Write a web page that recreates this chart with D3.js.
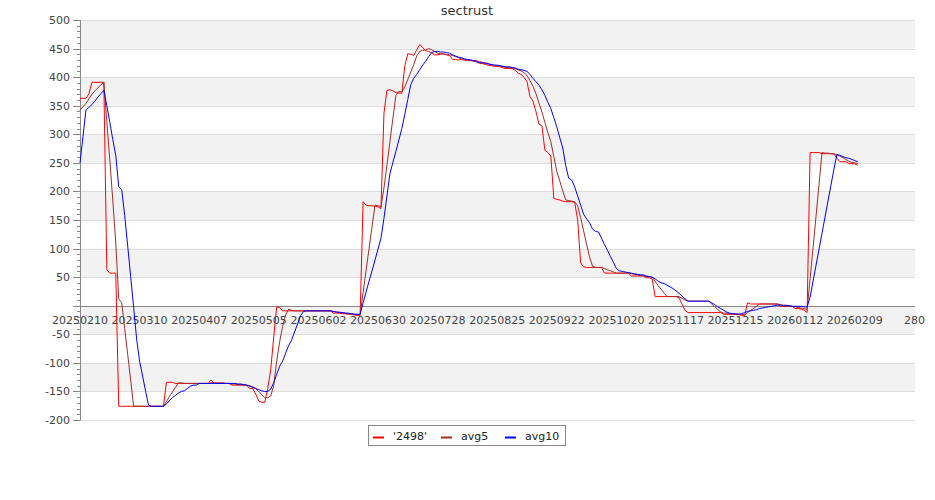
<!DOCTYPE html>
<html><head><meta charset="utf-8">
<script src="https://cdn.jsdelivr.net/npm/d3@7"></script>
<style>html,body{margin:0;padding:0;background:#fff;}svg{display:block;font-family:"DejaVu Sans",sans-serif;}</style>
</head><body><svg id="chart" width="935" height="500"></svg>
<script>
const title = "sectrust";
const tickIndex = [0,20,40,60,80,100,120,140,160,180,200,220,240,260,280];
const tickLabels = ["20250210","20250310","20250407","20250505","20250602","20250630","20250728","20250825","20250922","20251020","20251117","20251215","20260112","20260209","280"];
const seriesNames = ["'2498'","avg5","avg10"];
const seriesColors = ["#ff0000","#a52a2a","#0000ff"];
const raw = [363,363,363,371,391,391,391,391,391,63,
57,57,57,-176,-176,-176,-176,-176,-176,-176,
-176,-176,-176,-176,-176,-176,-176,-176,-176,-134,
-134,-134,-136,-136,-136,-136,-136,-136,-136,-136,
-136,-136,-136,-136,-130,-136,-136,-136,-136,-136,
-136,-139,-139,-139,-139,-139,-140,-145,-145,-155,
-167,-169,-169,-145,-112,-55,-2,-3,-9,-9,
-9,-9,-9,-9,-9,-9,-9,-9,-9,-9,
-9,-9,-9,-9,-9,-13,-13,-13,-14,-14,
-15,-15,-16,-17,-17,182,176,175,175,174,
173,170,337,377,378,376,373,372,372,420,
441,440,438,448,457,452,446,445,442,439,
439,440,441,439,438,431,431,430,431,430,
429,429,428,427,424,424,422,421,420,419,
419,418,416,415,415,415,412,407,405,400,
392,366,358,340,318,315,272,268,262,188,
186,185,183,182,182,182,181,150,75,68,
67,67,67,67,67,67,57,57,57,57,
57,57,57,57,57,52,52,52,52,52,
49,49,47,16,16,16,16,16,16,16,
16,14,3,-8,-12,-12,-12,-12,-12,-12,
-12,-12,-12,-12,-12,-12,-15,-15,-15,-15,
-15,-15,-17,-18,5,3,3,3,3,3,
3,3,3,3,3,-1,-1,-1,-1,-1,
-5,-5,-6,-8,-12,268,268,268,268,266,
266,266,266,266,258,252,252,252,249,249,
248,246];
const avg5 = [342,348,354,362,370,376,381,387,391,322,
255,185,110,12,5,-40,-85,-130,-176,-176,
-176,-176,-176,-176,-176,-176,-176,-176,-176,-168,
-159,-151,-143,-135,-135,-136,-136,-136,-136,-136,
-136,-136,-136,-136,-135,-135,-135,-135,-135,-136,
-136,-137,-137,-138,-138,-139,-139,-140,-142,-145,
-150,-156,-161,-161,-158,-140,-97,-63,-36,-16,
-6,-8,-9,-9,-9,-9,-9,-9,-9,-9,
-9,-9,-9,-9,-9,-10,-11,-11,-12,-13,
-14,-14,-15,-15,-16,23,62,100,138,176,
175,173,206,246,287,328,368,375,374,383,
396,409,422,437,445,447,448,450,448,445,
442,441,440,440,439,438,436,434,432,431,
430,430,429,429,427,426,425,424,422,421,
420,419,418,417,417,416,415,413,411,408,
403,394,384,371,355,339,321,303,287,261,
235,218,201,185,184,183,182,175,154,131,
108,85,69,67,67,67,65,63,61,59,
57,57,57,57,57,56,55,54,53,52,
51,51,50,43,35,29,22,16,16,16,
16,16,13,10,8,8,8,8,8,8,
8,8,3,-2,-7,-11,-13,-13,-14,-14,
-15,-15,-15,-16,-12,-8,-5,-1,3,3,
3,3,3,3,3,2,1,1,0,-1,
-2,-3,-4,-5,-7,47,102,157,212,268,
267,267,266,266,264,262,259,256,253,251,
250,249];
const avg10 = [250,296,343,347,352,358,365,371,377,350,
321,291,263,208,203,158,105,51,-3,-58,
-97,-123,-149,-174,-176,-176,-176,-176,-176,-172,
-166,-161,-157,-153,-150,-149,-145,-141,-139,-139,
-136,-136,-136,-136,-136,-136,-136,-136,-136,-136,
-136,-136,-136,-137,-137,-138,-139,-141,-143,-145,
-147,-149,-150,-150,-146,-135,-120,-106,-97,-83,
-70,-60,-46,-32,-18,-10,-9,-9,-9,-9,
-9,-9,-9,-9,-9,-10,-11,-12,-12,-13,
-13,-14,-15,-15,-15,5,24,43,61,80,
99,118,153,192,231,251,270,290,310,335,
361,387,398,405,413,421,428,436,443,445,
445,444,444,443,442,439,437,435,434,432,
431,430,429,427,426,425,424,423,422,421,
421,420,419,418,418,417,416,414,413,412,
410,405,398,392,386,378,368,356,345,329,
313,294,276,245,223,220,208,192,176,160,
152,145,134,130,129,118,107,97,86,76,
65,61,60,59,58,57,56,55,54,54,
52,51,50,47,43,40,39,36,33,30,
26,22,17,12,8,8,8,8,8,8,
8,8,5,2,-2,-5,-8,-11,-13,-14,
-14,-15,-14,-12,-10,-9,-8,-7,-5,-4,
-3,-2,-1,0,1,1,0,0,0,-1,
-1,-1,-1,-2,-2,15,43,71,99,127,
155,183,211,239,265,263,261,259,258,256,
254,252];
const yMin = -200, yMax = 500, yStep = 50, yMinor = 10;

const svg = d3.select("#chart");
const L = 80, R = 914.4, T = 20, B = 420;
const x = d3.scaleLinear().domain([0, 280]).range([L, R]);
const y = d3.scaleLinear().domain([yMin, yMax]).range([B, T]);

// bands
const bandStarts = d3.range(yMin, yMax, yStep);
svg.append("g").selectAll("rect").data(bandStarts.filter(v => ((v - yMin) / yStep) % 2 === 1))
  .join("rect").attr("x", L).attr("width", 915 - L)
  .attr("y", d => y(d + yStep)).attr("height", d => y(d) - y(d + yStep))
  .attr("fill", "#f2f2f2");
// grid
svg.append("g").selectAll("line").data(d3.range(yMin, yMax + 1, yStep).filter(v => v !== 0))
  .join("line").attr("x1", L).attr("x2", 915)
  .attr("y1", d => Math.round(y(d)) + 0.5).attr("y2", d => Math.round(y(d)) + 0.5)
  .attr("stroke", "#dddddd").attr("stroke-width", 1);
// zero line
svg.append("line").attr("x1", L).attr("x2", 915)
  .attr("y1", Math.round(y(0)) + 0.5).attr("y2", Math.round(y(0)) + 0.5)
  .attr("stroke", "#888").attr("stroke-width", 1);

// y axis
const yAxis = svg.append("g");
yAxis.append("line").attr("x1", L + 0.5).attr("x2", L + 0.5).attr("y1", T).attr("y2", B + 0.5).attr("stroke", "#888");
yAxis.selectAll(".minor").data(d3.range(yMin, yMax + 1, yMinor)).join("line")
  .attr("x1", d => (d % yStep === 0) ? L - 7 : L - 3).attr("x2", L)
  .attr("y1", d => Math.round(y(d)) + 0.5).attr("y2", d => Math.round(y(d)) + 0.5)
  .attr("stroke", "#888");
yAxis.selectAll("text").data(d3.range(yMin, yMax + 1, yStep).filter(v => v !== 0)).join("text")
  .attr("x", L - 10).attr("y", d => y(d) + 4)
  .attr("text-anchor", "end").attr("font-size", 11).attr("fill", "#444").text(d => d);

// x labels
svg.append("g").selectAll("text").data(tickIndex).join("text")
  .attr("x", d => x(d)).attr("y", y(0) + 18)
  .attr("text-anchor", "middle").attr("font-size", 11).attr("fill", "#444")
  .text((d, i) => tickLabels[i]);

// lines
const line = d3.line().x((d, i) => x(i)).y(d => y(d));
[raw, avg5, avg10].forEach((s, k) => {
  svg.append("path").datum(s).attr("d", line).attr("fill", "none")
    .attr("stroke", seriesColors[k]).attr("stroke-width", 1);
});

// title
svg.append("text").attr("x", 467).attr("y", 15).attr("text-anchor", "middle")
  .attr("font-size", 13).attr("fill", "#333").text(title);

// legend
const lg = svg.append("g");
lg.append("rect").attr("x", 368.5).attr("y", 425.5).attr("width", 197).attr("height", 20)
  .attr("fill", "#fff").attr("stroke", "#888");
const lx = [373, 441, 505];
seriesNames.forEach((n, k) => {
  lg.append("line").attr("x1", lx[k]).attr("x2", lx[k] + 11).attr("y1", 437.5).attr("y2", 437.5)
    .attr("stroke", seriesColors[k]).attr("stroke-width", 2);
  lg.append("text").attr("x", lx[k] + 20).attr("y", 440).attr("font-size", 11).attr("fill", "#222").text(n);
});
</script></body></html>
